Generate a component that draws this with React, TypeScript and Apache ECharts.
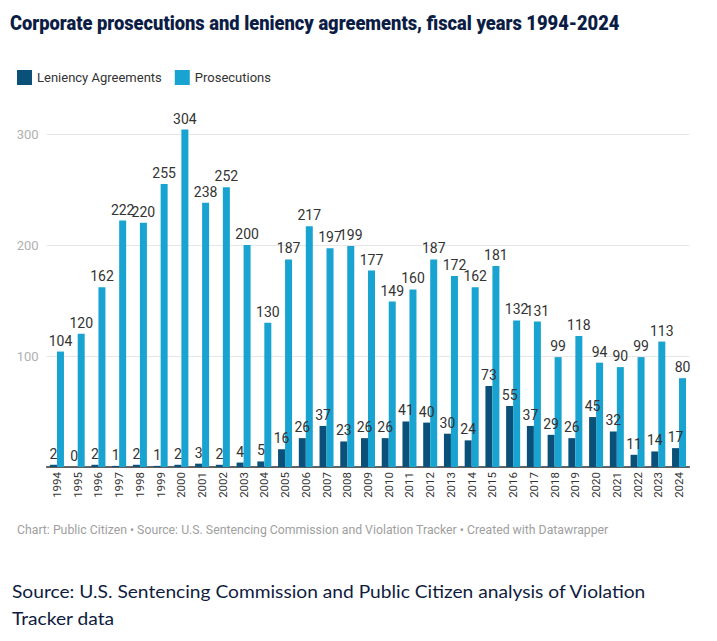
import React, { useEffect, useRef } from "react";
import * as echarts from "echarts";

const years = [
  "1994", "1995", "1996", "1997", "1998", "1999", "2000", "2001", "2002", "2003",
  "2004", "2005", "2006", "2007", "2008", "2009", "2010", "2011", "2012", "2013",
  "2014", "2015", "2016", "2017", "2018", "2019", "2020", "2021", "2022", "2023", "2024",
];
const leniencyAgreements = [
  2, 0, 2, 1, 2, 1, 2, 3, 2, 4,
  5, 16, 26, 37, 23, 26, 26, 41, 40, 30,
  24, 73, 55, 37, 29, 26, 45, 32, 11, 14, 17,
];
const prosecutions = [
  104, 120, 162, 222, 220, 255, 304, 238, 252, 200,
  130, 187, 217, 197, 199, 177, 149, 160, 187, 172,
  162, 181, 132, 131, 99, 118, 94, 90, 99, 113, 80,
];
const yTicks = [0, 100, 200, 300];

const TITLE = "Corporate prosecutions and leniency agreements, fiscal years 1994-2024";
const CREDIT =
  "Chart: Public Citizen \u2022 Source: U.S. Sentencing Commission and Violation Tracker \u2022 Created with Datawrapper";
const SOURCE_1 = "Source: U.S. Sentencing Commission and Public Citizen analysis of Violation";
const SOURCE_2 = "Tracker data";

const DARK = "#0b5079";
const LIGHT = "#19a3d0";

// Width of a string in a given CSS font, used to fit headings to their line.
function textWidth(text: string, font: string): number {
  const ctx = document.createElement("canvas").getContext("2d");
  if (!ctx) return text.length * 8;
  ctx.font = font;
  return ctx.measureText(text).width;
}

export default function App() {
  const ref = useRef<HTMLDivElement>(null);

  useEffect(() => {
    document.body.style.margin = "0";
    if (!ref.current) return;
    const chart = echarts.init(ref.current, undefined, { renderer: "svg" });

    const titleScale = 610 / textWidth(TITLE, "900 21px Roboto");
    const creditScale = 592 / textWidth(CREDIT, "400 12px Roboto");
    const sourceScale = 635 / textWidth(SOURCE_1, "400 18px Lato");

    const valueLabel = {
      show: true,
      position: "top",
      distance: 4,
      fontSize: 14,
      color: "#333",
    };

    chart.setOption({
      animation: false,
      textStyle: { fontFamily: "Roboto" },
      legend: {
        left: 12,
        top: 65,
        icon: "rect",
        itemWidth: 15,
        itemHeight: 15,
        itemGap: 13,
        textStyle: { fontFamily: "Roboto", fontSize: 13, color: "#333" },
        data: ["Leniency Agreements", "Prosecutions"],
      },
      grid: { left: 46.6, right: 27.6, top: 134, bottom: 174, containLabel: false },
      xAxis: {
        type: "category",
        data: years,
        axisTick: { show: false },
        axisLine: { lineStyle: { color: "#333", width: 1.5 } },
        axisLabel: {
          rotate: 90,
          interval: 0,
          margin: 5,
          fontSize: 11.5,
          color: "#333",
        },
      },
      yAxis: {
        type: "value",
        min: yTicks[0],
        max: yTicks[yTicks.length - 1],
        interval: 100,
        axisLine: { show: false },
        axisTick: { show: false },
        axisLabel: {
          showMinLabel: false,
          margin: 8,
          fontSize: 13,
          color: "#b0b0b0",
        },
        splitLine: { lineStyle: { color: "#e6e6e6", width: 1 } },
      },
      series: [
        {
          name: "Leniency Agreements",
          type: "bar",
          data: leniencyAgreements,
          barWidth: 7,
          barGap: "0%",
          clip: false,
          itemStyle: { color: DARK },
          label: valueLabel,
        },
        {
          name: "Prosecutions",
          type: "bar",
          data: prosecutions,
          barWidth: 7,
          barGap: "0%",
          clip: false,
          itemStyle: { color: LIGHT },
          label: valueLabel,
        },
      ],
      graphic: [
        {
          type: "text",
          x: 10,
          y: 22.8,
          scaleX: titleScale,
          style: {
            text: TITLE,
            fontFamily: "Roboto",
            fontWeight: 900,
            fontSize: 21,
            fill: "#0c1d45",
            textVerticalAlign: "middle",
            verticalAlign: "middle",
          },
        },
        {
          type: "text",
          x: 17,
          y: 530.5,
          scaleX: creditScale,
          style: {
            text: CREDIT,
            fontFamily: "Roboto",
            fontSize: 12,
            fill: "#a0a0a0",
            textVerticalAlign: "middle",
            verticalAlign: "middle",
          },
        },
        {
          type: "text",
          x: 12,
          y: 591,
          scaleX: sourceScale,
          style: {
            text: SOURCE_1,
            fontFamily: "Lato",
            fontSize: 18,
            fill: "#0f1c3f",
            textVerticalAlign: "middle",
            verticalAlign: "middle",
          },
        },
        {
          type: "text",
          x: 12,
          y: 618,
          scaleX: sourceScale,
          style: {
            text: SOURCE_2,
            fontFamily: "Lato",
            fontSize: 18,
            fill: "#0f1c3f",
            textVerticalAlign: "middle",
            verticalAlign: "middle",
          },
        },
      ],
    });

    return () => chart.dispose();
  }, []);

  return <div ref={ref} style={{ width: 717, height: 641 }} />;
}
